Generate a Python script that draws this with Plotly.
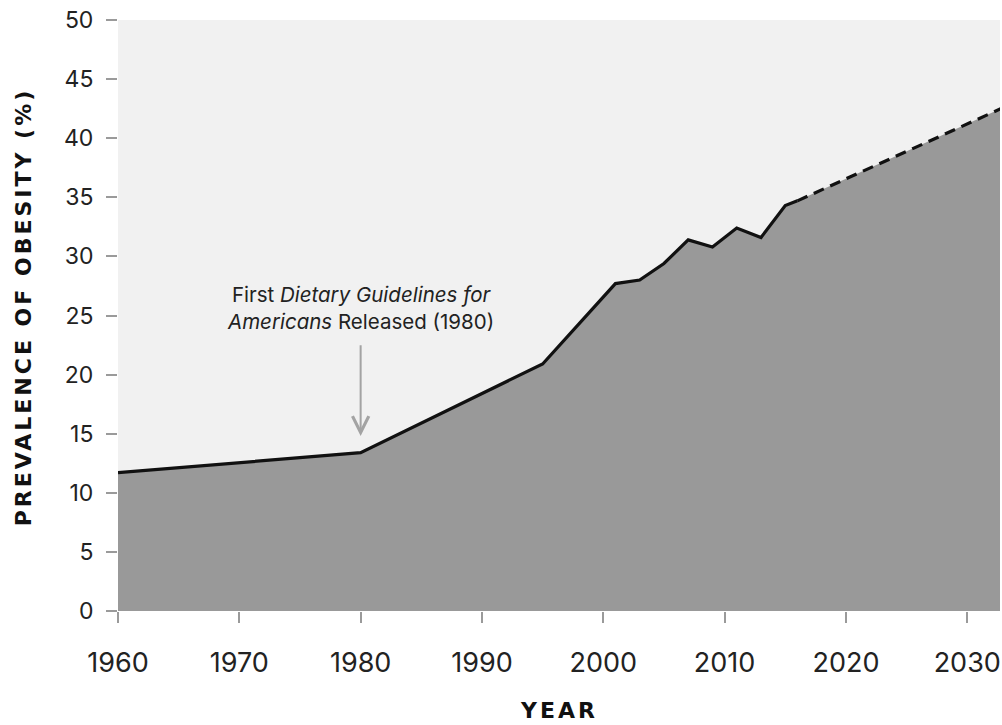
import plotly.graph_objects as go

# Observed prevalence of obesity (%)
obs_years = [1960, 1980, 1995, 2001, 2003, 2005, 2007, 2009, 2011, 2013, 2015, 2016]
obs_values = [11.7, 13.4, 20.9, 27.7, 28.0, 29.4, 31.4, 30.8, 32.4, 31.6, 34.3, 34.7]

# Projected prevalence
proj_years = [2016, 2033]
proj_values = [34.7, 42.6]

x_ticks = [1960, 1970, 1980, 1990, 2000, 2010, 2020, 2030]
y_ticks = [0, 5, 10, 15, 20, 25, 30, 35, 40, 45, 50]

annot_year = 1980
annot_text = "First <i>Dietary Guidelines for</i><br><i>Americans</i> Released (1980)"

all_years = obs_years + proj_years[1:]
all_values = obs_values + proj_values[1:]

fig = go.Figure()
fig.add_trace(go.Scatter(x=all_years, y=all_values, mode="lines", fill="tozeroy",
                         fillcolor="#999999", line=dict(width=0, color="#999999"),
                         hoverinfo="skip", showlegend=False))
fig.add_trace(go.Scatter(x=obs_years, y=obs_values, mode="lines",
                         line=dict(color="#111111", width=3.2), showlegend=False))
fig.add_trace(go.Scatter(x=proj_years, y=proj_values, mode="lines",
                         line=dict(color="#111111", width=3.2, dash="11px,7px"), showlegend=False))

fig.add_annotation(x=annot_year, y=14.8, ax=annot_year, ay=22.6, axref="x", ayref="y",
                   xref="x", yref="y", text="", showarrow=True, arrowhead=5,
                   arrowsize=1.6, arrowwidth=2, arrowcolor="#a3a3a3", standoff=0)
fig.add_annotation(x=annot_year, y=25.6, xref="x", yref="y", text=annot_text,
                   showarrow=False, align="center",
                   font=dict(family="Inter", size=20.5, color="#222222"))

fig.add_annotation(x=0.5, y=-0.168, xref="paper", yref="paper", text="<b>YEAR</b>",
                   showarrow=False, xanchor="center", yanchor="middle",
                   font=dict(family="DejaVu Sans", size=22, color="#111111"))
fig.add_annotation(x=-0.107, y=0.514, xref="paper", yref="paper",
                   text="<b>PREVALENCE OF OBESITY (%)</b>", textangle=-90,
                   showarrow=False, xanchor="center", yanchor="middle",
                   font=dict(family="DejaVu Sans", size=22, color="#111111"))

fig.update_layout(
    width=1002, height=725,
    margin=dict(l=118, r=2, t=20, b=114),
    paper_bgcolor="white", plot_bgcolor="#f1f1f1",
    font=dict(family="Inter", color="#222222"),
    xaxis=dict(range=[1960, 2032.7], tickvals=x_ticks, ticks="outside", ticklen=11,
               tickcolor="#9a9a9a", tickwidth=2, showgrid=False, zeroline=False,
               showline=False, tickfont=dict(size=27, color="#222222"),
               ticklabelstandoff=17),
    yaxis=dict(range=[0, 50], tickvals=y_ticks, ticks="outside", ticklen=11,
               tickcolor="#9a9a9a", tickwidth=2, showgrid=False, zeroline=False,
               showline=False, tickfont=dict(size=23, color="#222222"),
               ticklabelstandoff=8),
)

post = """
document.querySelectorAll('text').forEach(function(t){
  var s = t.textContent;
  if (s === 'YEAR' || s.indexOf('PREVALENCE') === 0) { t.style.letterSpacing = '3px'; }
});
"""
fig.write_html("out.html", post_script=post)
